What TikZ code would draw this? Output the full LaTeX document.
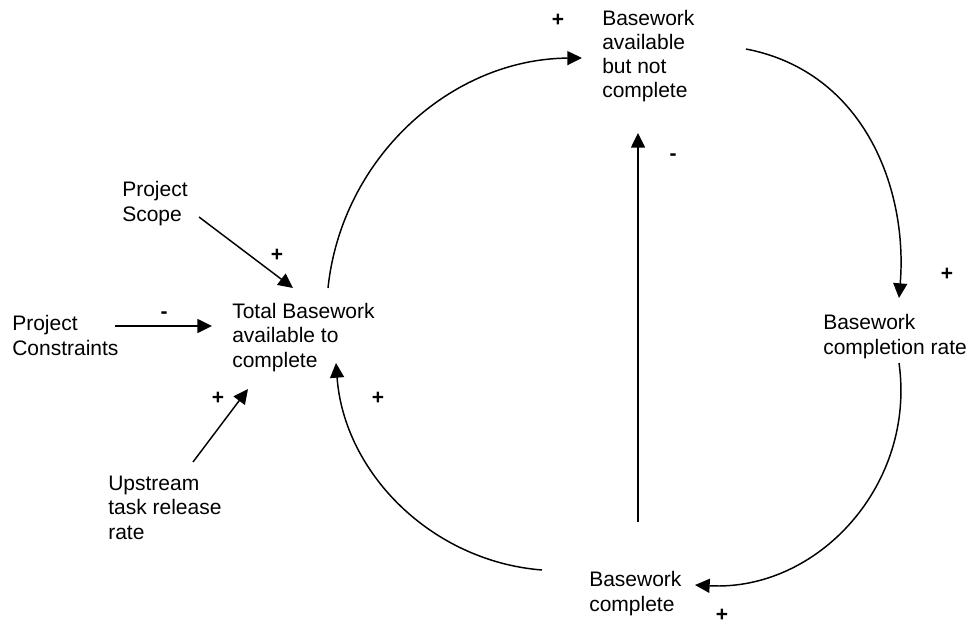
\documentclass[tikz,border=0pt]{standalone}
\usepackage{fontspec}
\setmainfont{Liberation Sans}
\usetikzlibrary{arrows.meta}
\begin{document}
\begin{tikzpicture}[
  x=0.75pt, y=-0.75pt,
  % multi-line labels are placed by the baseline of their last line
  label text/.style={anchor=base west, align=left, inner sep=0pt,
    font=\fontsize{15.75pt}{18.2pt}\selectfont},
  sign/.style={anchor=base, inner sep=0pt,
    font=\fontsize{15.75pt}{18pt}\selectfont\bfseries},
  link/.style={line width=1.1pt, -{Triangle[length=11pt,width=10.5pt]}}
]
\useasboundingbox (0,0) rectangle (971,624);

% variables of the loop
\node[label text] (avail)  at (602,98)  {Basework\\available\\but not\\complete};
\node[label text] (total)  at (232,367) {Total Basework\\available to\\complete};
\node[label text] (rate)   at (823,354) {Basework\\completion rate};
\node[label text] (done)   at (589,611) {Basework\\complete};
% external inputs
\node[label text] (scope)  at (122,221) {Project\\Scope};
\node[label text] (constr) at (12,355)  {Project\\Constraints};
\node[label text] (up)     at (108,539) {Upstream\\task release\\rate};

% connector end points
\coordinate (total-out)  at (328,288);
\coordinate (avail-in)   at (582,58);
\coordinate (avail-out)  at (746,49);
\coordinate (rate-in)    at (899,298);
\coordinate (rate-out)   at (899,363);
\coordinate (done-in)    at (695,585);
\coordinate (done-out)   at (542,570);
\coordinate (total-in)   at (336,363);
\coordinate (done-up)    at (638,522);
\coordinate (avail-low)  at (638,133);
\coordinate (scope-out)  at (199,217);
\coordinate (scope-in)   at (293,288);
\coordinate (constr-out) at (115,326);
\coordinate (constr-in)  at (212,326);
\coordinate (up-out)     at (193,462);
\coordinate (up-in)      at (248,389);

% the reinforcing loop
\draw[link] (total-out) .. controls (341.7,157.7) and (451,59) .. (avail-in);
\draw[link] (avail-out) .. controls (865,72) and (908,190) .. (rate-in);
\draw[link] (rate-out) .. controls (916.1,484.8) and (817.8,591.6) .. (done-in);
\draw[link] (done-out) .. controls (431.8,561.3) and (344.1,473.2) .. (total-in);
\draw[link] (done-up) -- (avail-low);

% inputs
\draw[link] (scope-out) -- (scope-in);
\draw[link] (constr-out) -- (constr-in);
\draw[link] (up-out) -- (up-in);

% polarities
\node[sign] (s1) at (558,27)  {+};
\node[sign] (s2) at (947,280) {+};
\node[sign] (s3) at (722,621) {+};
\node[sign] (s4) at (673,161) {-};
\node[sign] (s5) at (378,404) {+};
\node[sign] (s6) at (277,262) {+};
\node[sign] (s7) at (164,318) {-};
\node[sign] (s8) at (218,404) {+};
\end{tikzpicture}
\end{document}
